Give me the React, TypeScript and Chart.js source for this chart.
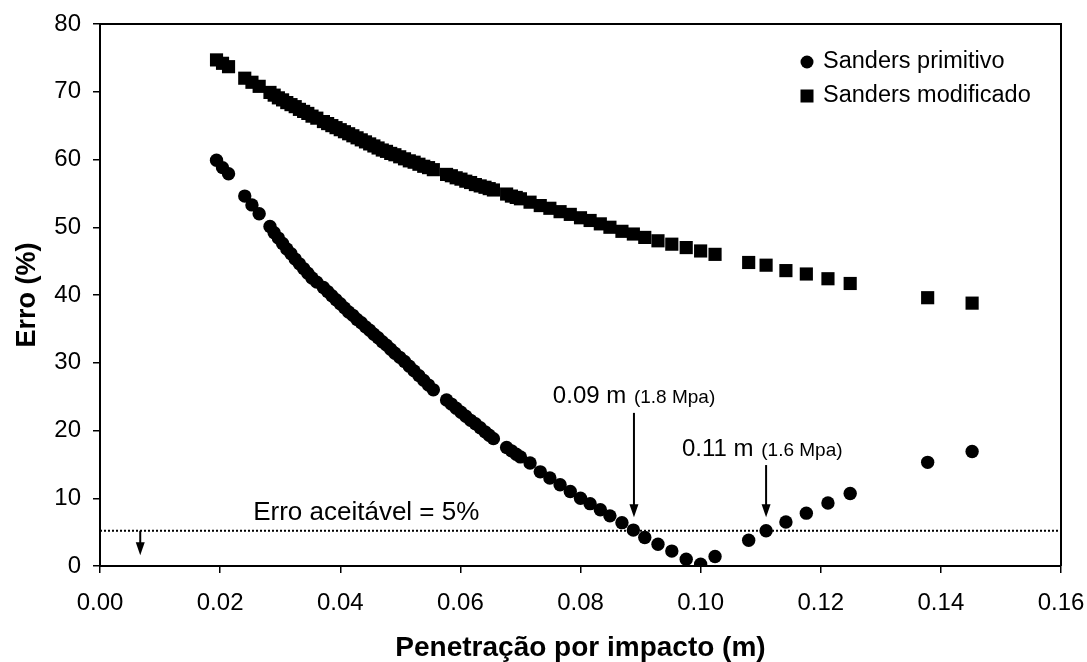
import React, { useEffect, useRef } from "react";
import { Chart, registerables } from "chart.js";

Chart.register(...registerables);

// Penetração por impacto (m)
const penetracao = [
  0.0194, 0.0204, 0.0214, 0.0241, 0.0253, 0.0265, 0.0283, 0.029, 0.0297, 0.0304,
  0.0311, 0.0318, 0.0325, 0.0332, 0.0339, 0.0346, 0.0353, 0.0361, 0.0372, 0.0379,
  0.0386, 0.0393, 0.04, 0.0407, 0.0414, 0.0421, 0.0428, 0.0435, 0.0442, 0.0449,
  0.0456, 0.0463, 0.047, 0.0477, 0.0484, 0.0491, 0.0499, 0.0507, 0.0515, 0.0523,
  0.0531, 0.0539, 0.0547, 0.0555, 0.0577, 0.0585, 0.0593, 0.0601, 0.0609, 0.0617,
  0.0625, 0.0633, 0.0641, 0.0648, 0.0655, 0.0677, 0.0685, 0.0693, 0.07, 0.0716,
  0.0733, 0.0749, 0.0766, 0.0783, 0.08, 0.0816, 0.0833, 0.0849, 0.0869, 0.0888,
  0.0907, 0.0929, 0.0952, 0.0976, 0.1, 0.1024, 0.108, 0.1109, 0.1142, 0.1176,
  0.1212, 0.1249, 0.1378, 0.1452,
];

// Erro (%) – Sanders primitivo
const sandersPrimitivo = [
  59.9, 58.8, 57.9, 54.6, 53.3, 52.0, 50.1, 49.2, 48.4, 47.6,
  46.8, 46.1, 45.3, 44.6, 43.9, 43.2, 42.5, 41.9, 41.1, 40.5,
  39.9, 39.3, 38.7, 38.1, 37.5, 37.0, 36.4, 35.9, 35.3, 34.8,
  34.2, 33.7, 33.1, 32.6, 32.0, 31.4, 30.8, 30.2, 29.5, 28.8,
  28.1, 27.4, 26.7, 26.0, 24.5, 23.9, 23.3, 22.7, 22.1, 21.5,
  21.0, 20.4, 19.8, 19.3, 18.8, 17.5, 17.0, 16.5, 16.1, 15.2,
  13.9, 13.0, 12.0, 11.0, 10.0, 9.2, 8.3, 7.4, 6.4, 5.3,
  4.2, 3.2, 2.2, 1.0, 0.25, 1.4, 3.8, 5.2, 6.5, 7.8,
  9.3, 10.7, 15.3, 16.9,
];

// Erro (%) – Sanders modificado
const sandersModificado = [
  74.7, 74.2, 73.7, 72.0, 71.4, 70.8, 69.9, 69.5, 69.1, 68.8,
  68.4, 68.1, 67.8, 67.4, 67.1, 66.8, 66.4, 66.1, 65.6, 65.3,
  65.0, 64.7, 64.4, 64.1, 63.8, 63.5, 63.2, 62.9, 62.6, 62.3,
  62.0, 61.7, 61.4, 61.2, 60.9, 60.7, 60.4, 60.1, 59.8, 59.6,
  59.3, 59.0, 58.8, 58.5, 57.8, 57.6, 57.3, 57.1, 56.8, 56.6,
  56.3, 56.1, 55.9, 55.7, 55.5, 54.9, 54.6, 54.4, 54.2, 53.7,
  53.2, 52.8, 52.3, 51.9, 51.4, 51.0, 50.5, 50.0, 49.4, 49.0,
  48.5, 48.0, 47.5, 47.0, 46.5, 46.0, 44.8, 44.4, 43.6, 43.1,
  42.4, 41.7, 39.6, 38.8,
];

const xTickValues = [0, 0.02, 0.04, 0.06, 0.08, 0.1, 0.12, 0.14, 0.16];
const yTickValues = [0, 10, 20, 30, 40, 50, 60, 70, 80];

const seriesNames = ["Sanders primitivo", "Sanders modificado"];
const xTitle = "Penetração por impacto (m)";
const yTitle = "Erro (%)";
const erroAceitavel = 5.2;
const erroLabel = "Erro aceitável = 5%";

const FONT = "'Liberation Sans', Arial, Helvetica, sans-serif";

function drawArrow(ctx: CanvasRenderingContext2D, x: number, y1: number, y2: number) {
  ctx.save();
  ctx.strokeStyle = "#000";
  ctx.fillStyle = "#000";
  ctx.lineWidth = 2;
  ctx.beginPath();
  ctx.moveTo(x, y1);
  ctx.lineTo(x, y2 - 10);
  ctx.stroke();
  ctx.beginPath();
  ctx.moveTo(x - 4.5, y2 - 13);
  ctx.lineTo(x + 4.5, y2 - 13);
  ctx.lineTo(x, y2);
  ctx.closePath();
  ctx.fill();
  ctx.restore();
}

const overlayPlugin = {
  id: "overlay",
  afterDatasetsDraw(chart: any) {
    const ctx: CanvasRenderingContext2D = chart.ctx;
    const xs = chart.scales.x;
    const ys = chart.scales.y;
    const { left, right, top, bottom } = chart.chartArea;
    ctx.save();
    // box
    ctx.strokeStyle = "#000";
    ctx.lineWidth = 2;
    ctx.beginPath();
    ctx.moveTo(left, top);
    ctx.lineTo(right, top);
    ctx.lineTo(right, bottom);
    ctx.stroke();

    // dotted line
    const yE = ys.getPixelForValue(erroAceitavel);
    ctx.setLineDash([2, 2]);
    ctx.lineWidth = 2;
    ctx.beginPath();
    ctx.moveTo(left, yE);
    ctx.lineTo(right, yE);
    ctx.stroke();
    ctx.setLineDash([]);

    ctx.fillStyle = "#000";
    ctx.textBaseline = "alphabetic";
    ctx.textAlign = "left";
    ctx.font = `26px ${FONT}`;
    ctx.fillText(erroLabel, xs.getPixelForValue(0.0255), ys.getPixelForValue(6.8));

    drawArrow(ctx, xs.getPixelForValue(0.0067), yE, ys.getPixelForValue(1.6));

    // annotation 1
    const a1x = xs.getPixelForValue(0.0754);
    const a1y = ys.getPixelForValue(24.0);
    ctx.font = `24px ${FONT}`;
    ctx.fillText("0.09 m", a1x, a1y);
    let w = ctx.measureText("0.09 m ").width;
    ctx.font = `19px ${FONT}`;
    ctx.fillText("(1.8 Mpa)", a1x + w + 1, a1y);
    drawArrow(ctx, xs.getPixelForValue(0.0889), ys.getPixelForValue(22.6), ys.getPixelForValue(7.2));

    // annotation 2
    const a2x = xs.getPixelForValue(0.0969);
    const a2y = ys.getPixelForValue(16.2);
    ctx.font = `24px ${FONT}`;
    ctx.fillText("0.11 m", a2x, a2y);
    w = ctx.measureText("0.11 m ").width;
    ctx.font = `19px ${FONT}`;
    ctx.fillText("(1.6 Mpa)", a2x + w + 1, a2y);
    drawArrow(ctx, xs.getPixelForValue(0.1109), ys.getPixelForValue(14.9), ys.getPixelForValue(7.2));

    // legend
    const lx = right - 254;
    const ly1 = top + 38;
    const ly2 = top + 72;
    ctx.beginPath();
    ctx.arc(lx, ly1, 6.5, 0, Math.PI * 2);
    ctx.fill();
    ctx.fillRect(lx - 6.5, ly2 - 6.5, 13, 13);
    ctx.font = `23.5px ${FONT}`;
    ctx.textBaseline = "middle";
    ctx.fillText(seriesNames[0], lx + 16, ly1);
    ctx.fillText(seriesNames[1], lx + 16, ly2);
    ctx.restore();
  },
};

export default function App() {
  const ref = useRef<HTMLCanvasElement | null>(null);
  useEffect(() => {
    if (!ref.current) return;
    const chart = new Chart(ref.current, {
      type: "scatter",
      data: {
        datasets: [
          {
            label: seriesNames[0],
            data: penetracao.map((x, i) => ({ x, y: sandersPrimitivo[i] })),
            pointStyle: "circle",
            pointRadius: 6.7,
            backgroundColor: "#000",
            borderColor: "#000",
            borderWidth: 0,
          },
          {
            label: seriesNames[1],
            data: penetracao.map((x, i) => ({ x, y: sandersModificado[i] })),
            pointStyle: "rect",
            pointRadius: 9.3,
            backgroundColor: "#000",
            borderColor: "#000",
            borderWidth: 0,
          },
        ],
      },
      options: {
        animation: false,
        responsive: false,
        devicePixelRatio: 1,
        layout: { padding: { top: 24, right: 26, left: 14, bottom: 0 } },
        plugins: { legend: { display: false }, tooltip: { enabled: false } },
        scales: {
          x: {
            type: "linear",
            min: 0,
            max: 0.16,
            afterBuildTicks: (s: any) => {
              s.ticks = xTickValues.map((v) => ({ value: v }));
            },
            afterFit: (s: any) => {
              s.height = 96;
              s.paddingLeft = 0;
              s.paddingRight = 0;
            },
            ticks: {
              color: "#000",
              font: { family: FONT, size: 24 },
              padding: 16,
              maxRotation: 0,
              callback: (v: any) => Number(v).toFixed(2),
            },
            grid: { drawOnChartArea: false, color: "#000", tickLength: 7, lineWidth: 1.5 },
            border: { color: "#000", width: 2 },
            title: {
              display: true,
              text: xTitle,
              color: "#000",
              font: { family: FONT, size: 28, weight: "bold", lineHeight: 1 },
              padding: { top: 0, bottom: 0 },
            },
          },
          y: {
            type: "linear",
            min: 0,
            max: 80,
            afterBuildTicks: (s: any) => {
              s.ticks = yTickValues.map((v) => ({ value: v }));
            },
            afterFit: (s: any) => {
              s.width = 86;
              s.paddingTop = 0;
              s.paddingBottom = 0;
            },
            ticks: {
              color: "#000",
              font: { family: FONT, size: 24 },
              padding: 12,
              callback: (v: any) => String(v),
            },
            grid: { drawOnChartArea: false, color: "#000", tickLength: 7, lineWidth: 1.5 },
            border: { color: "#000", width: 2 },
            title: {
              display: true,
              text: yTitle,
              color: "#000",
              font: { family: FONT, size: 27, weight: "bold", lineHeight: 1 },
              padding: { top: 0, bottom: 0 },
            },
          },
        },
      },
      plugins: [overlayPlugin],
    });
    return () => chart.destroy();
  }, []);
  return (
    <div style={{ position: "absolute", left: 0, top: 0, width: 1087, height: 662, background: "#fff" }}>
      <canvas ref={ref} width={1087} height={662} />
    </div>
  );
}
